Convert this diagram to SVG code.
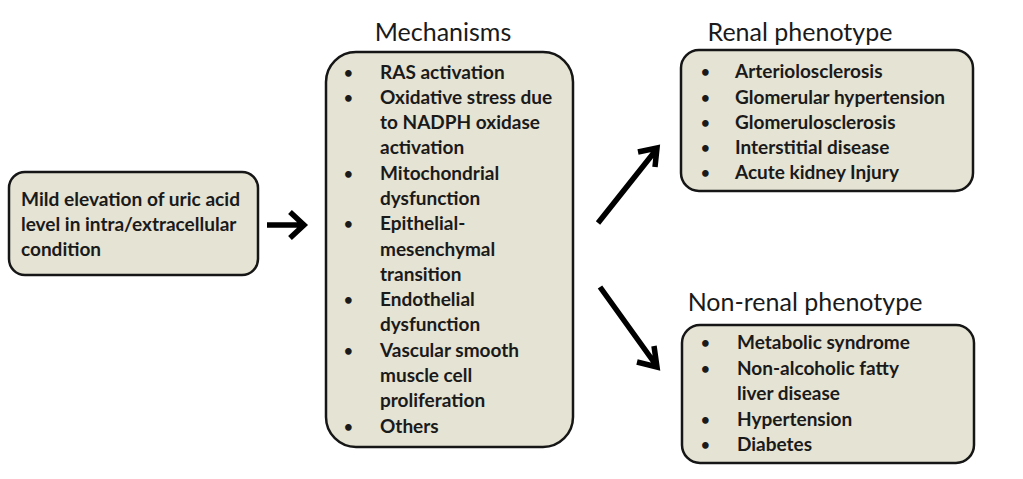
<svg xmlns="http://www.w3.org/2000/svg" width="1023" height="479" viewBox="0 0 1023 479">
<defs>
<style>
.box{fill:#e5e3d3;stroke:#161616;stroke-width:2.5}
.t{font-family:Lato,"Liberation Sans",sans-serif;font-weight:bold;font-size:19px;fill:#1a1a1a}
.b{font-size:15px}
.h{font-family:Lato,"Liberation Sans",sans-serif;font-size:25px;fill:#1a1a1a;text-anchor:middle}
.arr{stroke:#000;stroke-width:5.5;fill:none;stroke-linecap:butt}
</style>
</defs>
<rect width="1023" height="479" fill="#fff"/>
<g id="source">
<rect class="box" x="9" y="172" width="249" height="103" rx="16"/>
<text class="t" x="21" y="206" textLength="219" lengthAdjust="spacingAndGlyphs">Mild elevation of uric acid</text>
<text class="t" x="21" y="231">level in intra/extracellular</text>
<text class="t" x="21" y="256">condition</text>
</g>
<g id="mechanisms">
<text class="h" x="443" y="41">Mechanisms</text>
<rect class="box" x="326" y="52" width="247" height="395" rx="30"/>
<g class="t">
<g class="b">
<text x="344" y="78">•</text>
<text x="344" y="103">•</text>
<text x="344" y="179">•</text>
<text x="344" y="229">•</text>
<text x="344" y="305">•</text>
<text x="344" y="356">•</text>
<text x="344" y="432">•</text>
</g>
<text x="380" y="79">RAS activation</text>
<text x="380" y="104">Oxidative stress due</text>
<text x="380" y="129">to NADPH oxidase</text>
<text x="380" y="154">activation</text>
<text x="380" y="180">Mitochondrial</text>
<text x="380" y="205">dysfunction</text>
<text x="380" y="230">Epithelial-</text>
<text x="380" y="256">mesenchymal</text>
<text x="380" y="281">transition</text>
<text x="380" y="306">Endothelial</text>
<text x="380" y="331">dysfunction</text>
<text x="380" y="357">Vascular smooth</text>
<text x="380" y="382">muscle cell</text>
<text x="380" y="407">proliferation</text>
<text x="380" y="433">Others</text>
</g>
</g>
<g id="renal">
<text class="h" x="800" y="41">Renal phenotype</text>
<rect class="box" x="681" y="50" width="292" height="141" rx="18"/>
<g class="t">
<g class="b">
<text x="701" y="77">•</text>
<text x="701" y="103">•</text>
<text x="701" y="128">•</text>
<text x="701" y="153">•</text>
<text x="701" y="178">•</text>
</g>
<text x="735" y="78">Arteriolosclerosis</text>
<text x="735" y="104">Glomerular hypertension</text>
<text x="735" y="129">Glomerulosclerosis</text>
<text x="735" y="154">Interstitial disease</text>
<text x="735" y="179">Acute kidney Injury</text>
</g>
</g>
<g id="nonrenal">
<text class="h" x="805" y="311">Non-renal phenotype</text>
<rect class="box" x="682" y="325" width="292" height="138" rx="18"/>
<g class="t">
<g class="b">
<text x="701" y="348">•</text>
<text x="701" y="374">•</text>
<text x="701" y="425">•</text>
<text x="701" y="450">•</text>
</g>
<text x="737" y="349">Metabolic syndrome</text>
<text x="737" y="375">Non-alcoholic fatty</text>
<text x="737" y="400">liver disease</text>
<text x="737" y="426">Hypertension</text>
<text x="737" y="451">Diabetes</text>
</g>
</g>
<g id="connectors">
<path class="arr" d="M267 225 H303 M290 212 L304 225 L290 238"/>
<path class="arr" d="M598 223 L656 150 M638 152 L657 148 L655 167"/>
<path class="arr" d="M600 287 L656 365 M654 346 L657 367 L637 362"/>
</g>
</svg>
